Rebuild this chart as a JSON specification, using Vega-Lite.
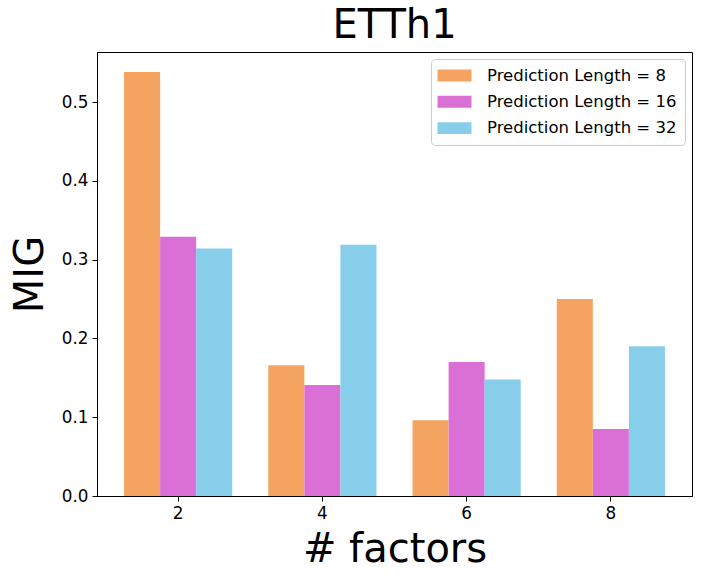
{
  "$schema": "https://vega.github.io/schema/vega-lite/v6.json",
  "width": 595,
  "height": 444,
  "autosize": "none",
  "padding": {"left": 97, "top": 52, "right": 11, "bottom": 88},
  "background": "white",
  "title": {"text": "ETTh1", "fontSize": 40, "font": "DejaVu Sans", "fontWeight": "normal", "color": "black", "anchor": "middle", "baseline": "alphabetic", "offset": -26},
  "config": {
    "font": "DejaVu Sans",
    "view": {"stroke": "black", "strokeWidth": 1},
    "axis": {"grid": false, "domainColor": "black", "tickColor": "black", "labelColor": "black", "titleColor": "black", "labelFont": "DejaVu Sans", "titleFont": "DejaVu Sans", "labelFontSize": 16.8, "titleFontSize": 40, "titleFontWeight": "normal", "tickSize": 5, "domainWidth": 1}
  },
  "data": {"values": [
    {"factor": 2, "series": "Prediction Length = 8", "mig": 0.538},
    {"factor": 2, "series": "Prediction Length = 16", "mig": 0.329},
    {"factor": 2, "series": "Prediction Length = 32", "mig": 0.314},
    {"factor": 4, "series": "Prediction Length = 8", "mig": 0.166},
    {"factor": 4, "series": "Prediction Length = 16", "mig": 0.141},
    {"factor": 4, "series": "Prediction Length = 32", "mig": 0.319},
    {"factor": 6, "series": "Prediction Length = 8", "mig": 0.096},
    {"factor": 6, "series": "Prediction Length = 16", "mig": 0.170},
    {"factor": 6, "series": "Prediction Length = 32", "mig": 0.148},
    {"factor": 8, "series": "Prediction Length = 8", "mig": 0.250},
    {"factor": 8, "series": "Prediction Length = 16", "mig": 0.085},
    {"factor": 8, "series": "Prediction Length = 32", "mig": 0.190}
  ]},
  "mark": {"type": "bar"},
  "encoding": {
    "x": {"field": "factor", "type": "ordinal", "title": "# factors",
      "scale": {"paddingInner": 0.25, "paddingOuter": 0.1875},
      "axis": {"labelAngle": 0, "labelPadding": 4, "titlePadding": 8}},
    "xOffset": {"field": "series", "type": "nominal", "sort": ["Prediction Length = 8", "Prediction Length = 16", "Prediction Length = 32"], "scale": {"paddingInner": 0, "paddingOuter": 0}},
    "y": {"field": "mig", "type": "quantitative", "title": "MIG",
      "scale": {"domain": [0, 0.5635], "nice": false, "zero": true},
      "axis": {"values": [0, 0.1, 0.2, 0.3, 0.4, 0.5], "format": ".1f", "labelPadding": 4, "titlePadding": 11}},
    "color": {"field": "series", "type": "nominal", "sort": ["Prediction Length = 8", "Prediction Length = 16", "Prediction Length = 32"],
      "scale": {"domain": ["Prediction Length = 8", "Prediction Length = 16", "Prediction Length = 32"], "range": ["#F4A460", "#DA70D6", "#87CEEB"]},
      "legend": {"title": null, "orient": "top-right", "offset": 7, "fillColor": "white", "strokeColor": "#cccccc", "cornerRadius": 4, "padding": 8,
        "symbolType": "M-2,-0.7L2,-0.7L2,0.7L-2,0.7Z", "symbolSize": 289, "symbolStrokeWidth": 0, "symbolOpacity": 1, "symbolOffset": 7,
        "labelFontSize": 16.5, "labelFont": "DejaVu Sans", "labelColor": "black", "labelOffset": 24, "rowPadding": 9.3, "labelLimit": 300}}
  }
}
